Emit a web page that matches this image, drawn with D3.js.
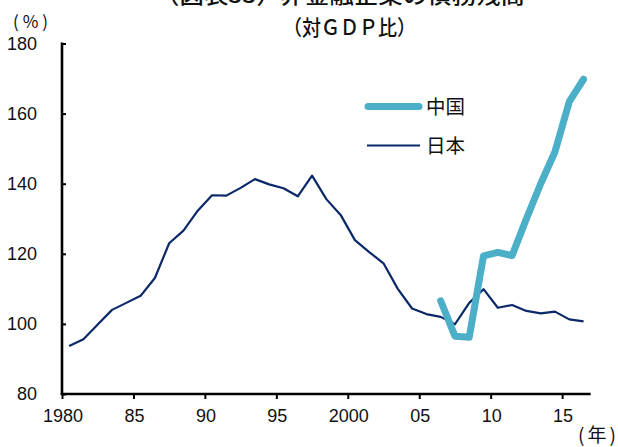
<!DOCTYPE html>
<html>
<head>
<meta charset="utf-8">
<script src="https://cdn.jsdelivr.net/npm/d3@7"></script>
<style>
  html, body { margin: 0; padding: 0; background: #fff; }
  svg { display: block; }
  text { font-family: "Liberation Sans", Arial, sans-serif; fill: #111; }
  .jp { font-family: "Noto Sans CJK JP", sans-serif; }
</style>
</head>
<body>
<svg id="chart" width="618" height="447"></svg>
<script>
// Non-financial corporate debt, % of GDP
const japanYears = d3.range(1980, 2017);
const japanValues = [
  93.7, 95.6, 99.8, 104.0, 106.0, 108.0, 113.1, 123.0, 126.6, 132.3,
  136.7, 136.6, 138.8, 141.3, 139.8, 138.7, 136.4, 142.3, 135.6, 131.1,
  123.9, 120.5, 117.3, 110.0, 104.4, 102.8, 102.0, 99.9, 106.0, 109.9,
  104.6, 105.4, 103.7, 103.0, 103.5, 101.3, 100.7
];
const chinaYears = d3.range(2006, 2017);
const chinaValues = [106.6, 96.5, 96.2, 119.4, 120.4, 119.5, 130.0, 140.0, 149.1, 163.4, 169.8];

const xTicks = [1980, 1985, 1990, 1995, 2000, 2005, 2010, 2015];
const xTickLabels = ["1980", "85", "90", "95", "2000", "05", "10", "15"];
const yTicks = [80, 100, 120, 140, 160, 180];

const seriesNames = ["中国", "日本"];

const svg = d3.select("#chart");

const x = d3.scaleLinear().domain([1980, 2017]).range([62, 590.7]);
const y = d3.scaleLinear().domain([80, 180]).range([394, 43.5]);

// titles
svg.append("text").attr("class", "jp")
  .attr("x", 155).attr("y", 3)
  .attr("font-size", 22)
  .attr("font-weight", 500)
  .attr("textLength", 370).attr("lengthAdjust", "spacingAndGlyphs")
  .text("（図表33）非金融企業の債務残高");
svg.append("text").attr("class", "jp")
  .attr("x", 283).attr("y", 35)
  .attr("font-size", 21)
  .attr("font-weight", 500)
  .attr("textLength", 133).attr("lengthAdjust", "spacingAndGlyphs")
  .text("（対ＧＤＰ比）");

// unit labels
svg.append("text").attr("class", "jp")
  .attr("x", 13).attr("y", 27.5)
  .attr("font-size", 17)
  .attr("textLength", 35).attr("lengthAdjust", "spacing")
  .text("(%)");
svg.append("text").attr("class", "jp")
  .attr("x", 578).attr("y", 442)
  .attr("font-size", 19)
  .attr("textLength", 38).attr("lengthAdjust", "spacing")
  .text("(年)");

// y axis
const yAxis = svg.append("g").attr("transform", `translate(${x(1980)},0)`)
  .call(d3.axisRight(y).tickValues(yTicks).tickSize(4).tickFormat(""));
yAxis.select(".domain").remove();
yAxis.selectAll(".tick line").attr("stroke", "#000").attr("stroke-width", 2);
svg.append("line")
  .attr("x1", x(1980)).attr("x2", x(1980))
  .attr("y1", y(180) - 1).attr("y2", y(80) + 1)
  .attr("stroke", "#000").attr("stroke-width", 2.6);

svg.append("g").selectAll("text").data(yTicks).join("text")
  .attr("x", 37).attr("y", d => y(d))
  .attr("dy", "0.35em")
  .attr("text-anchor", "end")
  .attr("font-size", 18)
  .text(d => d);

// x axis
const xAxis = svg.append("g").attr("transform", `translate(0,${y(80)})`)
  .call(d3.axisBottom(x).tickValues(xTicks).tickSize(5).tickFormat(""));
xAxis.select(".domain").remove();
xAxis.selectAll(".tick line").attr("stroke", "#000").attr("stroke-width", 2);
svg.append("line")
  .attr("x1", x(1980) - 1.3).attr("x2", x(2017))
  .attr("y1", y(80)).attr("y2", y(80))
  .attr("stroke", "#000").attr("stroke-width", 2.6);

svg.append("g").selectAll("text").data(xTicks).join("text")
  .attr("x", d => x(d) + 1)
  .attr("y", 421.5)
  .attr("text-anchor", "middle")
  .attr("font-size", 18)
  .text((d, i) => xTickLabels[i]);

// series lines (annual values plotted at mid-year)
const line = d3.line().x(d => x(d[0] + 0.5)).y(d => y(d[1]));

svg.append("path")
  .datum(japanYears.map((yr, i) => [yr, japanValues[i]]))
  .attr("d", line)
  .attr("fill", "none")
  .attr("stroke", "#0b2868")
  .attr("stroke-width", 2.2)
  .attr("stroke-linejoin", "round");

svg.append("path")
  .datum(chinaYears.map((yr, i) => [yr, chinaValues[i]]))
  .attr("d", line)
  .attr("fill", "none")
  .attr("stroke", "#4bafc8")
  .attr("stroke-width", 7)
  .attr("stroke-linecap", "round")
  .attr("stroke-linejoin", "round");

// legend
const legend = svg.append("g");
legend.append("line")
  .attr("x1", 368).attr("x2", 419).attr("y1", 106.5).attr("y2", 106.5)
  .attr("stroke", "#4bafc8").attr("stroke-width", 7).attr("stroke-linecap", "round");
legend.append("line")
  .attr("x1", 367).attr("x2", 420).attr("y1", 145.5).attr("y2", 145.5)
  .attr("stroke", "#0b2868").attr("stroke-width", 2.2);
legend.selectAll("text.lbl").data(seriesNames).join("text")
  .attr("class", "jp lbl")
  .attr("x", 426).attr("y", (d, i) => i === 0 ? 107 : 146)
  .attr("dy", "0.36em")
  .attr("font-size", 19.5)
  .text(d => d);
</script>
</body>
</html>
